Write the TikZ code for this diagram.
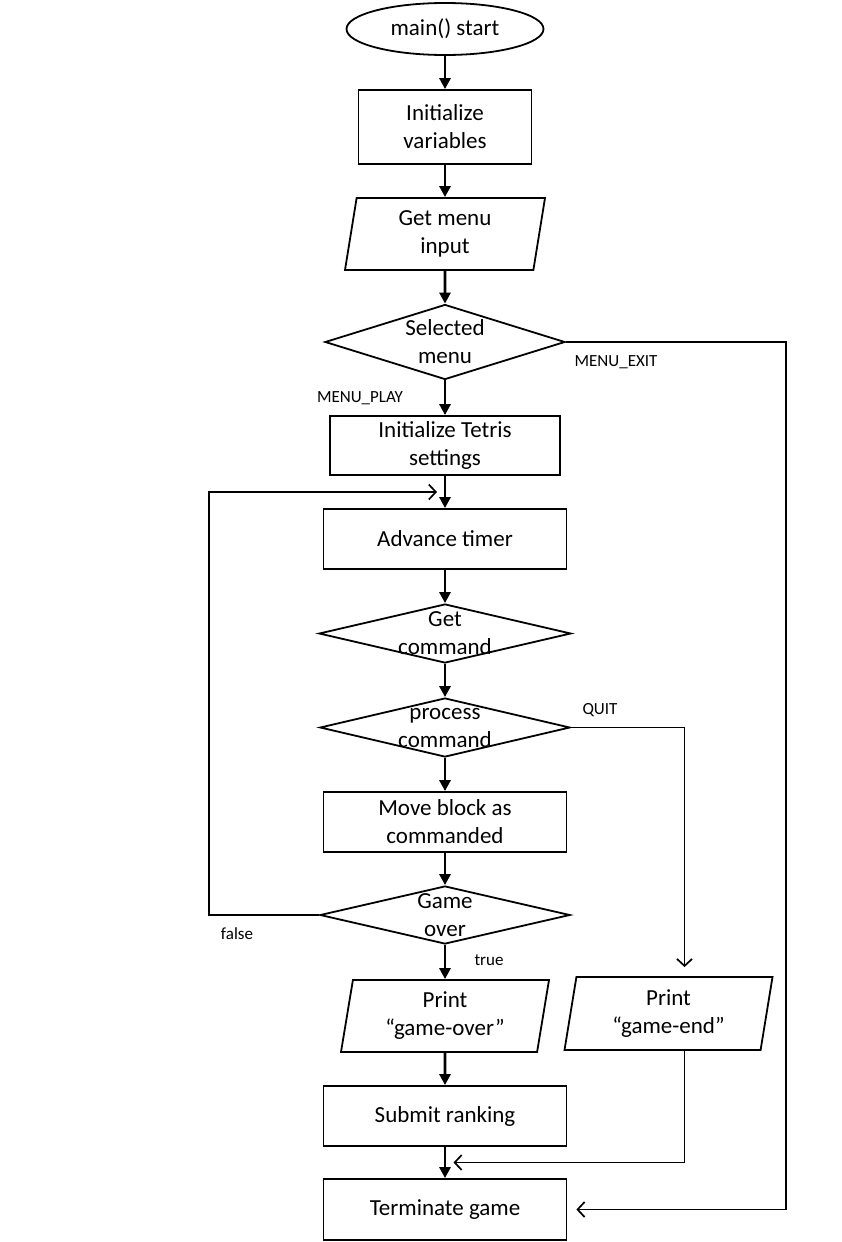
\documentclass[tikz,border=0pt]{standalone}
\usepackage{fontspec}
\setmainfont{Carlito}
\usepackage{tikz}
\usetikzlibrary{
arrows.meta,
positioning,
shapes.geometric,
calc
}

\begin{document}
\begin{tikzpicture}[
  x=1pt, y=-1pt,
  stepbox/.style={draw, line width=1.8pt, minimum width=243pt, minimum height=60pt, inner sep=0pt, align=center, font=\fontsize{23}{28}\selectfont},
  iobox/.style={trapezium, trapezium left angle=76, trapezium right angle=104, trapezium stretches body, draw, line width=1.8pt, minimum width=208pt, minimum height=72pt, inner sep=0pt, align=center, font=\fontsize{23}{28}\selectfont},
  decision/.style={diamond, draw, line width=1.8pt, minimum width=250pt, minimum height=59pt, inner sep=0pt},
  dtext/.style={align=center, font=\fontsize{23}{28}\selectfont},
  terminal/.style={ellipse, draw, line width=1.8pt, minimum width=197pt, minimum height=52pt, inner sep=0pt, font=\fontsize{23}{28}\selectfont},
  lbl/.style={font=\fontsize{17}{20}\selectfont},
  flow/.style={line width=2.8pt, -{Triangle[length=11pt, width=11pt]}},
  back/.style={line width=1.7pt, -{Straight Barb[length=7pt, width=15pt, line width=1.7pt]}}
]
  \useasboundingbox (0,0) rectangle (842,1242);

  % Main column
  \node[terminal] (start) at (445, 29) {main() start};
  \node[stepbox, minimum width=173pt, minimum height=74pt] (initvars) at (445, 127) {Initialize\\variables};
  \node[iobox, minimum width=200pt] (menuin) at (445, 234) {Get menu\\input};
  \node[decision, minimum width=240pt, minimum height=75pt, label={[dtext]center:{Selected\\menu}}] (selmenu) at (445, 342) {};
  \node[stepbox, minimum width=230pt, minimum height=59pt] (inittetris) at (445, 445.5) {Initialize Tetris\\settings};
  \node[stepbox] (advance) at (445, 539) {Advance timer};
  \node[decision, minimum width=252pt, label={[dtext]center:{Get\\command}}] (getcmd) at (445, 633.5) {};
  \node[decision, label={[dtext]center:{process\\command}}] (proccmd) at (445, 727.5) {};
  \node[stepbox] (move) at (445, 822) {Move block as\\commanded};
  \node[decision, minimum height=58pt, label={[dtext]center:{Game\\over}}] (gameover) at (445, 915) {};
  \node[iobox] (printover) at (445, 1016) {Print\\“game-over”};
  \node[iobox, minimum height=73pt] (gameend) at (668.5, 1013.5) {Print\\“game-end”};
  \node[stepbox] (submit) at (445, 1116) {Submit ranking};
  \node[stepbox, minimum height=61pt] (terminate) at (445, 1209.5) {Terminate game};

  % Branch labels
  \node[lbl] (playlbl) at (360, 398) {MENU\_PLAY};
  \node[lbl] (exitlbl) at (616, 362) {MENU\_EXIT};
  \node[lbl] (quitlbl) at (600, 710) {QUIT};
  \node[lbl] (falselbl) at (237, 934) {false};
  \node[lbl] (truelbl) at (489, 960) {true};

  % Join points
  \coordinate (loopin) at ([xshift=-8pt]$(inittetris.south)!0.5!(advance.north)$);
  \coordinate (mergein) at ([xshift=8.5pt]$(submit.south)!0.5!(terminate.north)$);

  % Main flow
  \draw[flow] (start) -- (initvars);
  \draw[flow] (initvars) -- (menuin);
  \draw[flow] (menuin) -- (selmenu);
  \draw[flow] (selmenu) -- (inittetris);
  \draw[flow] (inittetris) -- (advance);
  \draw[flow] (advance) -- (getcmd);
  \draw[flow] (getcmd) -- (proccmd);
  \draw[flow] (proccmd) -- (move);
  \draw[flow] (move) -- (gameover);
  \draw[flow] (gameover) -- (printover);
  \draw[flow] (printover) -- (submit);
  \draw[flow] (submit) -- (terminate);

  % Side branches
  \draw[back] (gameover.west) -- ++(-110,0) |- (loopin);
  \draw[back] (selmenu.east) -- ++(220,0) |- ([xshift=9pt]terminate.east);
  \draw[back] (proccmd.east) -| ([xshift=16pt, yshift=9pt]gameend.north);
  \draw[back] ([xshift=16pt]gameend.south) |- (mergein);

\end{tikzpicture}
\end{document}
